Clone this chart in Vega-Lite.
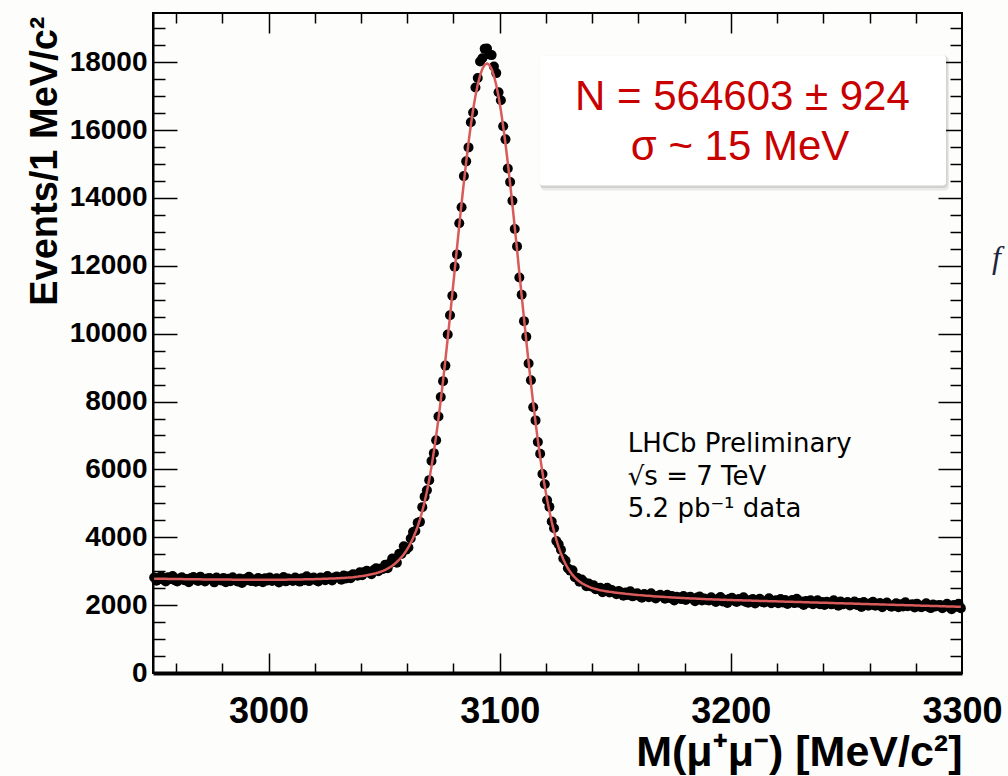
{
  "$schema": "https://vega.github.io/schema/vega-lite/v6.json",
  "width": 809,
  "height": 660,
  "autosize": {"type": "none"},
  "padding": {"left": 153, "top": 13, "right": 46, "bottom": 103},
  "background": "#fdfdfb",
  "config": {
    "view": {"stroke": "#000000", "strokeWidth": 2, "fill": "#fdfdfb"},
    "axis": {"grid": false, "labelFont": "Liberation Sans", "titleFont": "Liberation Sans", "labelColor": "#000000", "titleColor": "#000000", "tickColor": "#000000", "domainColor": "#000000", "tickWidth": 1.5, "labelFlush": false}
  },
  "data": {
    "values": [
      {"m":2950.5,"n":2814,"f":2779},{"m":2951.5,"n":2718,"f":2778},{"m":2952.5,"n":2787,"f":2777},{"m":2953.5,"n":2851,"f":2776},{"m":2954.5,"n":2750,"f":2775},{"m":2955.5,"n":2694,"f":2774},{"m":2956.5,"n":2823,"f":2773},{"m":2957.5,"n":2767,"f":2772},{"m":2958.5,"n":2861,"f":2771},{"m":2959.5,"n":2730,"f":2770},
      {"m":2960.5,"n":2699,"f":2769},{"m":2961.5,"n":2788,"f":2768},{"m":2962.5,"n":2822,"f":2767},{"m":2963.5,"n":2731,"f":2766},{"m":2964.5,"n":2770,"f":2765},{"m":2965.5,"n":2674,"f":2764},{"m":2966.5,"n":2803,"f":2763},{"m":2967.5,"n":2828,"f":2763},{"m":2968.5,"n":2747,"f":2762},{"m":2969.5,"n":2711,"f":2761},
      {"m":2970.5,"n":2840,"f":2760},{"m":2971.5,"n":2739,"f":2759},{"m":2972.5,"n":2694,"f":2759},{"m":2973.5,"n":2788,"f":2758},{"m":2974.5,"n":2802,"f":2757},{"m":2975.5,"n":2746,"f":2756},{"m":2976.5,"n":2671,"f":2756},{"m":2977.5,"n":2815,"f":2755},{"m":2978.5,"n":2770,"f":2755},{"m":2979.5,"n":2724,"f":2754},
      {"m":2980.5,"n":2803,"f":2753},{"m":2981.5,"n":2678,"f":2753},{"m":2982.5,"n":2777,"f":2752},{"m":2983.5,"n":2707,"f":2752},{"m":2984.5,"n":2821,"f":2751},{"m":2985.5,"n":2756,"f":2751},{"m":2986.5,"n":2695,"f":2750},{"m":2987.5,"n":2785,"f":2750},{"m":2988.5,"n":2654,"f":2749},{"m":2989.5,"n":2769,"f":2749},
      {"m":2990.5,"n":2734,"f":2749},{"m":2991.5,"n":2833,"f":2748},{"m":2992.5,"n":2708,"f":2748},{"m":2993.5,"n":2757,"f":2747},{"m":2994.5,"n":2687,"f":2747},{"m":2995.5,"n":2802,"f":2747},{"m":2996.5,"n":2772,"f":2747},{"m":2997.5,"n":2677,"f":2747},{"m":2998.5,"n":2792,"f":2747},{"m":2999.5,"n":2727,"f":2747},
      {"m":3000.5,"n":2812,"f":2747},{"m":3001.5,"n":2713,"f":2748},{"m":3002.5,"n":2743,"f":2748},{"m":3003.5,"n":2789,"f":2749},{"m":3004.5,"n":2669,"f":2749},{"m":3005.5,"n":2765,"f":2750},{"m":3006.5,"n":2826,"f":2751},{"m":3007.5,"n":2701,"f":2751},{"m":3008.5,"n":2782,"f":2752},{"m":3009.5,"n":2743,"f":2753},
      {"m":3010.5,"n":2709,"f":2754},{"m":3011.5,"n":2815,"f":2755},{"m":3012.5,"n":2777,"f":2757},{"m":3013.5,"n":2693,"f":2758},{"m":3014.5,"n":2794,"f":2759},{"m":3015.5,"n":2735,"f":2760},{"m":3016.5,"n":2852,"f":2762},{"m":3017.5,"n":2708,"f":2763},{"m":3018.5,"n":2770,"f":2765},{"m":3019.5,"n":2816,"f":2766},
      {"m":3020.5,"n":2738,"f":2768},{"m":3021.5,"n":2700,"f":2770},{"m":3022.5,"n":2817,"f":2772},{"m":3023.5,"n":2789,"f":2774},{"m":3024.5,"n":2736,"f":2776},{"m":3025.5,"n":2859,"f":2779},{"m":3026.5,"n":2767,"f":2782},{"m":3027.5,"n":2725,"f":2785},{"m":3028.5,"n":2813,"f":2788},{"m":3029.5,"n":2846,"f":2791},
      {"m":3030.5,"n":2805,"f":2795},{"m":3031.5,"n":2749,"f":2799},{"m":3032.5,"n":2873,"f":2803},{"m":3033.5,"n":2787,"f":2807},{"m":3034.5,"n":2851,"f":2811},{"m":3035.5,"n":2792,"f":2817},{"m":3036.5,"n":2912,"f":2822},{"m":3037.5,"n":2897,"f":2832},{"m":3038.5,"n":2865,"f":2840},{"m":3039.5,"n":2969,"f":2849},
      {"m":3040.5,"n":2883,"f":2858},{"m":3041.5,"n":2974,"f":2869},{"m":3042.5,"n":3011,"f":2881},{"m":3043.5,"n":2964,"f":2894},{"m":3044.5,"n":2913,"f":2908},{"m":3045.5,"n":3038,"f":2923},{"m":3046.5,"n":3086,"f":2941},{"m":3047.5,"n":2996,"f":2961},{"m":3048.5,"n":3078,"f":2983},{"m":3049.5,"n":3065,"f":3010},
      {"m":3050.5,"n":3193,"f":3041},{"m":3051.5,"n":3086,"f":3076},{"m":3052.5,"n":3231,"f":3116},{"m":3053.5,"n":3374,"f":3162},{"m":3054.5,"n":3277,"f":3215},{"m":3055.5,"n":3252,"f":3272},{"m":3056.5,"n":3514,"f":3339},{"m":3057.5,"n":3506,"f":3414},{"m":3058.5,"n":3736,"f":3501},{"m":3059.5,"n":3636,"f":3596},
      {"m":3060.5,"n":3701,"f":3706},{"m":3061.5,"n":3962,"f":3832},{"m":3062.5,"n":4157,"f":3975},{"m":3063.5,"n":4186,"f":4138},{"m":3064.5,"n":4430,"f":4322},{"m":3065.5,"n":4454,"f":4529},{"m":3066.5,"n":4888,"f":4768},{"m":3067.5,"n":5197,"f":5039},{"m":3068.5,"n":5387,"f":5349},{"m":3069.5,"n":5683,"f":5698},
      {"m":3070.5,"n":6249,"f":6089},{"m":3071.5,"n":6479,"f":6519},{"m":3072.5,"n":6858,"f":6988},{"m":3073.5,"n":7558,"f":7498},{"m":3074.5,"n":8133,"f":8043},{"m":3075.5,"n":8601,"f":8621},{"m":3076.5,"n":9059,"f":9229},{"m":3077.5,"n":9978,"f":9858},{"m":3078.5,"n":10543,"f":10513},{"m":3079.5,"n":11118,"f":11178},
      {"m":3080.5,"n":11975,"f":11850},{"m":3081.5,"n":12336,"f":12524},{"m":3082.5,"n":13252,"f":13190},{"m":3083.5,"n":13728,"f":13840},{"m":3084.5,"n":14643,"f":14468},{"m":3085.5,"n":15078,"f":15066},{"m":3086.5,"n":15490,"f":15628},{"m":3087.5,"n":16230,"f":16142},{"m":3088.5,"n":16517,"f":16605},{"m":3089.5,"n":17257,"f":17007},
      {"m":3090.5,"n":17535,"f":17345},{"m":3091.5,"n":18023,"f":17613},{"m":3092.5,"n":18117,"f":17807},{"m":3093.5,"n":18393,"f":17923},{"m":3094.5,"n":18401,"f":17961},{"m":3095.5,"n":18229,"f":17919},{"m":3096.5,"n":18209,"f":17799},{"m":3097.5,"n":17871,"f":17601},{"m":3098.5,"n":17679,"f":17329},{"m":3099.5,"n":17117,"f":16987},
      {"m":3100.5,"n":16881,"f":16581},{"m":3101.5,"n":16114,"f":16114},{"m":3102.5,"n":15726,"f":15596},{"m":3103.5,"n":14870,"f":15030},{"m":3104.5,"n":14468,"f":14428},{"m":3105.5,"n":13916,"f":13796},{"m":3106.5,"n":13082,"f":13142},{"m":3107.5,"n":12572,"f":12472},{"m":3108.5,"n":11654,"f":11794},{"m":3109.5,"n":11148,"f":11118},
      {"m":3110.5,"n":10369,"f":10449},{"m":3111.5,"n":9910,"f":9790},{"m":3112.5,"n":9122,"f":9152},{"m":3113.5,"n":8625,"f":8535},{"m":3114.5,"n":7833,"f":7943},{"m":3115.5,"n":7444,"f":7384},{"m":3116.5,"n":6805,"f":6855},{"m":3117.5,"n":6462,"f":6362},{"m":3118.5,"n":5863,"f":5903},{"m":3119.5,"n":5563,"f":5493},
      {"m":3120.5,"n":5092,"f":5112},{"m":3121.5,"n":4896,"f":4766},{"m":3122.5,"n":4464,"f":4454},{"m":3123.5,"n":4265,"f":4175},{"m":3124.5,"n":3889,"f":3929},{"m":3125.5,"n":3791,"f":3711},{"m":3126.5,"n":3630,"f":3520},{"m":3127.5,"n":3374,"f":3354},{"m":3128.5,"n":3310,"f":3210},{"m":3129.5,"n":3086,"f":3086},
      {"m":3130.5,"n":3017,"f":2982},{"m":3131.5,"n":3026,"f":2891},{"m":3132.5,"n":2825,"f":2815},{"m":3133.5,"n":2810,"f":2750},{"m":3134.5,"n":2687,"f":2697},{"m":3135.5,"n":2754,"f":2649},{"m":3136.5,"n":2684,"f":2609},{"m":3137.5,"n":2554,"f":2574},{"m":3138.5,"n":2640,"f":2545},{"m":3139.5,"n":2548,"f":2518},
      {"m":3140.5,"n":2589,"f":2494},{"m":3141.5,"n":2470,"f":2475},{"m":3142.5,"n":2482,"f":2457},{"m":3143.5,"n":2511,"f":2441},{"m":3144.5,"n":2378,"f":2428},{"m":3145.5,"n":2460,"f":2415},{"m":3146.5,"n":2509,"f":2404},{"m":3147.5,"n":2373,"f":2393},{"m":3148.5,"n":2444,"f":2384},{"m":3149.5,"n":2395,"f":2375},
      {"m":3150.5,"n":2322,"f":2367},{"m":3151.5,"n":2419,"f":2359},{"m":3152.5,"n":2372,"f":2352},{"m":3153.5,"n":2278,"f":2343},{"m":3154.5,"n":2369,"f":2334},{"m":3155.5,"n":2302,"f":2327},{"m":3156.5,"n":2410,"f":2320},{"m":3157.5,"n":2259,"f":2314},{"m":3158.5,"n":2312,"f":2307},{"m":3159.5,"n":2351,"f":2301},
      {"m":3160.5,"n":2265,"f":2295},{"m":3161.5,"n":2220,"f":2290},{"m":3162.5,"n":2329,"f":2284},{"m":3163.5,"n":2294,"f":2279},{"m":3164.5,"n":2233,"f":2273},{"m":3165.5,"n":2348,"f":2268},{"m":3166.5,"n":2248,"f":2263},{"m":3167.5,"n":2198,"f":2258},{"m":3168.5,"n":2279,"f":2254},{"m":3169.5,"n":2304,"f":2249},
      {"m":3170.5,"n":2255,"f":2245},{"m":3171.5,"n":2191,"f":2241},{"m":3172.5,"n":2306,"f":2236},{"m":3173.5,"n":2212,"f":2232},{"m":3174.5,"n":2268,"f":2228},{"m":3175.5,"n":2139,"f":2224},{"m":3176.5,"n":2250,"f":2220},{"m":3177.5,"n":2222,"f":2217},{"m":3178.5,"n":2178,"f":2213},{"m":3179.5,"n":2269,"f":2209},
      {"m":3180.5,"n":2151,"f":2206},{"m":3181.5,"n":2227,"f":2202},{"m":3182.5,"n":2249,"f":2199},{"m":3183.5,"n":2185,"f":2195},{"m":3184.5,"n":2117,"f":2192},{"m":3185.5,"n":2224,"f":2189},{"m":3186.5,"n":2251,"f":2186},{"m":3187.5,"n":2138,"f":2183},{"m":3188.5,"n":2195,"f":2180},{"m":3189.5,"n":2152,"f":2177},
      {"m":3190.5,"n":2139,"f":2174},{"m":3191.5,"n":2232,"f":2172},{"m":3192.5,"n":2159,"f":2169},{"m":3193.5,"n":2092,"f":2167},{"m":3194.5,"n":2189,"f":2164},{"m":3195.5,"n":2241,"f":2161},{"m":3196.5,"n":2109,"f":2159},{"m":3197.5,"n":2161,"f":2156},{"m":3198.5,"n":2064,"f":2154},{"m":3199.5,"n":2191,"f":2151},
      {"m":3200.5,"n":2219,"f":2149},{"m":3201.5,"n":2127,"f":2147},{"m":3202.5,"n":2090,"f":2145},{"m":3203.5,"n":2178,"f":2143},{"m":3204.5,"n":2136,"f":2141},{"m":3205.5,"n":2229,"f":2139},{"m":3206.5,"n":2097,"f":2137},{"m":3207.5,"n":2070,"f":2135},{"m":3208.5,"n":2148,"f":2133},{"m":3209.5,"n":2181,"f":2131},
      {"m":3210.5,"n":2049,"f":2129},{"m":3211.5,"n":2147,"f":2127},{"m":3212.5,"n":2190,"f":2125},{"m":3213.5,"n":2093,"f":2123},{"m":3214.5,"n":2076,"f":2121},{"m":3215.5,"n":2129,"f":2119},{"m":3216.5,"n":2202,"f":2117},{"m":3217.5,"n":2055,"f":2115},{"m":3218.5,"n":2098,"f":2113},{"m":3219.5,"n":2141,"f":2111},
      {"m":3220.5,"n":2059,"f":2109},{"m":3221.5,"n":2182,"f":2107},{"m":3222.5,"n":2080,"f":2105},{"m":3223.5,"n":2148,"f":2103},{"m":3224.5,"n":2031,"f":2101},{"m":3225.5,"n":2094,"f":2099},{"m":3226.5,"n":2152,"f":2097},{"m":3227.5,"n":2060,"f":2095},{"m":3228.5,"n":2188,"f":2093},{"m":3229.5,"n":2071,"f":2091},
      {"m":3230.5,"n":2104,"f":2089},{"m":3231.5,"n":2002,"f":2087},{"m":3232.5,"n":2125,"f":2085},{"m":3233.5,"n":2073,"f":2083},{"m":3234.5,"n":2141,"f":2081},{"m":3235.5,"n":2024,"f":2079},{"m":3236.5,"n":2052,"f":2077},{"m":3237.5,"n":2145,"f":2075},{"m":3238.5,"n":2028,"f":2073},{"m":3239.5,"n":2091,"f":2071},
      {"m":3240.5,"n":2004,"f":2069},{"m":3241.5,"n":2102,"f":2067},{"m":3242.5,"n":2070,"f":2065},{"m":3243.5,"n":2023,"f":2063},{"m":3244.5,"n":2141,"f":2061},{"m":3245.5,"n":2044,"f":2059},{"m":3246.5,"n":1982,"f":2057},{"m":3247.5,"n":2105,"f":2055},{"m":3248.5,"n":2023,"f":2053},{"m":3249.5,"n":2061,"f":2051},
      {"m":3250.5,"n":2094,"f":2049},{"m":3251.5,"n":1987,"f":2047},{"m":3252.5,"n":2025,"f":2045},{"m":3253.5,"n":2108,"f":2043},{"m":3254.5,"n":2006,"f":2041},{"m":3255.5,"n":2064,"f":2039},{"m":3256.5,"n":1947,"f":2037},{"m":3257.5,"n":2090,"f":2035},{"m":3258.5,"n":2028,"f":2033},{"m":3259.5,"n":1981,"f":2031},
      {"m":3260.5,"n":2059,"f":2029},{"m":3261.5,"n":2097,"f":2027},{"m":3262.5,"n":1980,"f":2025},{"m":3263.5,"n":2008,"f":2023},{"m":3264.5,"n":2061,"f":2021},{"m":3265.5,"n":1939,"f":2019},{"m":3266.5,"n":2032,"f":2017},{"m":3267.5,"n":2075,"f":2015},{"m":3268.5,"n":1988,"f":2013},{"m":3269.5,"n":1956,"f":2011},
      {"m":3270.5,"n":1999,"f":2009},{"m":3271.5,"n":2057,"f":2007},{"m":3272.5,"n":1935,"f":2005},{"m":3273.5,"n":2023,"f":2003},{"m":3274.5,"n":1961,"f":2001},{"m":3275.5,"n":2084,"f":1999},{"m":3276.5,"n":1967,"f":1997},{"m":3277.5,"n":1990,"f":1995},{"m":3278.5,"n":2028,"f":1993},{"m":3279.5,"n":1931,"f":1991},
      {"m":3280.5,"n":2044,"f":1989},{"m":3281.5,"n":1962,"f":1987},{"m":3282.5,"n":1935,"f":1985},{"m":3283.5,"n":1993,"f":1983},{"m":3284.5,"n":2056,"f":1981},{"m":3285.5,"n":1944,"f":1979},{"m":3286.5,"n":1912,"f":1977},{"m":3287.5,"n":2020,"f":1975},{"m":3288.5,"n":1958,"f":1973},{"m":3289.5,"n":1996,"f":1971},
      {"m":3290.5,"n":2004,"f":1969},{"m":3291.5,"n":1907,"f":1967},{"m":3292.5,"n":1975,"f":1965},{"m":3293.5,"n":2038,"f":1963},{"m":3294.5,"n":1936,"f":1961},{"m":3295.5,"n":1879,"f":1959},{"m":3296.5,"n":2007,"f":1957},{"m":3297.5,"n":1950,"f":1955},{"m":3298.5,"n":2043,"f":1953},{"m":3299.5,"n":1911,"f":1951}
    ]
  },
  "resolve": {"scale": {"x": "shared", "y": "shared"}, "axis": {"x": "independent", "y": "independent"}},
  "layer": [
    {
      "mark": {"type": "point", "opacity": 0},
      "encoding": {
        "x": {"field": "m", "type": "quantitative", "scale": {"domain": [2950, 3300], "nice": false, "zero": false},
              "axis": {"orient": "bottom", "offset": -10, "tickSize": 10, "domain": false, "labels": false, "title": null,
                       "values": [2960, 2980, 3020, 3040, 3060, 3080, 3120, 3140, 3160, 3180, 3220, 3240, 3260, 3280]}},
        "y": {"field": "n", "type": "quantitative", "scale": {"domain": [0, 19450], "nice": false},
              "axis": {"orient": "left", "offset": -12, "tickSize": 12, "domain": false, "labels": false, "title": null,
                       "values": [500, 1000, 1500, 2500, 3000, 3500, 4500, 5000, 5500, 6500, 7000, 7500, 8500, 9000, 9500, 10500, 11000, 11500, 12500, 13000, 13500, 14500, 15000, 15500, 16500, 17000, 17500, 18500, 19000]}}
      }
    },
    {
      "mark": {"type": "point", "opacity": 0},
      "encoding": {
        "x": {"field": "m", "type": "quantitative",
              "axis": {"orient": "bottom", "offset": -20, "tickSize": 20, "domain": false, "labels": false, "title": null,
                       "values": [3000, 3100, 3200]}},
        "y": {"field": "n", "type": "quantitative",
              "axis": {"orient": "left", "offset": -24, "tickSize": 24, "domain": false, "labels": false, "title": null,
                       "values": [2000, 4000, 6000, 8000, 10000, 12000, 14000, 16000, 18000]}}
      }
    },
    {
      "mark": {"type": "point", "opacity": 0},
      "encoding": {
        "x": {"field": "m", "type": "quantitative",
              "axis": {"orient": "top", "offset": -10, "tickSize": 10, "domain": false, "labels": false, "title": null,
                       "values": [2960, 2980, 3020, 3040, 3060, 3080, 3120, 3140, 3160, 3180, 3220, 3240, 3260, 3280]}},
        "y": {"field": "n", "type": "quantitative",
              "axis": {"orient": "right", "offset": -12, "tickSize": 12, "domain": false, "labels": false, "title": null,
                       "values": [500, 1000, 1500, 2500, 3000, 3500, 4500, 5000, 5500, 6500, 7000, 7500, 8500, 9000, 9500, 10500, 11000, 11500, 12500, 13000, 13500, 14500, 15000, 15500, 16500, 17000, 17500, 18500, 19000]}}
      }
    },
    {
      "mark": {"type": "point", "opacity": 0},
      "encoding": {
        "x": {"field": "m", "type": "quantitative",
              "axis": {"orient": "top", "offset": -20, "tickSize": 20, "domain": false, "labels": false, "title": null,
                       "values": [3000, 3100, 3200]}},
        "y": {"field": "n", "type": "quantitative",
              "axis": {"orient": "right", "offset": -24, "tickSize": 24, "domain": false, "labels": false, "title": null,
                       "values": [2000, 4000, 6000, 8000, 10000, 12000, 14000, 16000, 18000]}}
      }
    },
    {
      "mark": {"type": "point", "filled": true, "color": "#000000", "size": 100, "opacity": 1},
      "encoding": {
        "x": {"field": "m", "type": "quantitative",
              "axis": {"orient": "bottom", "ticks": false, "domainWidth": 4, "values": [3000, 3100, 3200, 3300], "format": "d",
                       "labelFontSize": 36, "labelFontWeight": "bold", "labelBaseline": "alphabetic", "labelPadding": 49,
                       "title": "M(μ⁺μ⁻) [MeV/c²]", "titleFontSize": 43, "titleFontWeight": "bold",
                       "titleAnchor": null, "titleAlign": "right", "titleBaseline": "alphabetic", "titleX": 809, "titleY": 92}},
        "y": {"field": "n", "type": "quantitative",
              "axis": {"orient": "left", "ticks": false, "domainWidth": 2, "values": [0, 2000, 4000, 6000, 8000, 10000, 12000, 14000, 16000, 18000], "format": "d",
                       "labelFontSize": 28, "labelFontWeight": "bold", "labelPadding": 6, "labelBaseline": "middle",
                       "title": "Events/1 MeV/c²", "titleFontSize": 38, "titleFontWeight": "bold", "titleAngle": 270,
                       "titleAnchor": null, "titleAlign": "right", "titleBaseline": "alphabetic", "titleX": -97, "titleY": 3}}
      }
    },
    {
      "mark": {"type": "line", "color": "#d95a5a", "strokeWidth": 2.5},
      "encoding": {
        "x": {"field": "m", "type": "quantitative", "axis": null},
        "y": {"field": "f", "type": "quantitative", "axis": null}
      }
    },
    {
      "data": {"values": [{"x1": 3117.3, "x2": 3293.1, "y1": 14370, "y2": 18205}]},
      "layer": [
        {
          "mark": {"type": "rect", "fill": "#000000", "opacity": 0.08, "cornerRadius": 4, "xOffset": 1, "x2Offset": 3, "yOffset": 5, "y2Offset": 1},
          "encoding": {
            "x": {"field": "x1", "type": "quantitative", "axis": null}, "x2": {"field": "x2"},
            "y": {"field": "y1", "type": "quantitative", "axis": null}, "y2": {"field": "y2"}
          }
        },
        {
          "mark": {"type": "rect", "fill": "#000000", "opacity": 0.1, "cornerRadius": 4, "xOffset": 0, "x2Offset": 1.5, "yOffset": 2.5, "y2Offset": 0},
          "encoding": {
            "x": {"field": "x1", "type": "quantitative", "axis": null}, "x2": {"field": "x2"},
            "y": {"field": "y1", "type": "quantitative", "axis": null}, "y2": {"field": "y2"}
          }
        },
        {
          "mark": {"type": "rect", "fill": "#ffffff", "cornerRadius": 3},
          "encoding": {
            "x": {"field": "x1", "type": "quantitative", "axis": null}, "x2": {"field": "x2"},
            "y": {"field": "y1", "type": "quantitative", "axis": null}, "y2": {"field": "y2"}
          }
        }
      ]
    },
    {
      "data": {"values": [{"x": 3205, "y": 16600, "t": "N = 564603 ± 924"}, {"x": 3204, "y": 15110, "t": "σ ~ 15 MeV"}]},
      "mark": {"type": "text", "font": "Liberation Sans", "fontSize": 42, "color": "#c80000", "align": "center", "baseline": "alphabetic"},
      "encoding": {
        "x": {"field": "x", "type": "quantitative", "axis": null},
        "y": {"field": "y", "type": "quantitative", "axis": null},
        "text": {"field": "t"}
      }
    },
    {
      "data": {"values": [{"x": 3155.4, "y": 6513, "t": "LHCb Preliminary"}, {"x": 3155.4, "y": 5532, "t": "√s = 7 TeV"}, {"x": 3155.4, "y": 4598, "t": "5.2 pb⁻¹ data"}]},
      "mark": {"type": "text", "font": "DejaVu Sans", "fontSize": 26, "color": "#000000", "align": "left", "baseline": "alphabetic"},
      "encoding": {
        "x": {"field": "x", "type": "quantitative", "axis": null},
        "y": {"field": "y", "type": "quantitative", "axis": null},
        "text": {"field": "t"}
      }
    },
    {
      "data": {"values": [{"x": 3313, "y": 11930, "t": "f"}]},
      "mark": {"type": "text", "font": "Liberation Serif", "fontStyle": "italic", "fontSize": 32, "color": "#1c2540", "align": "left", "baseline": "alphabetic", "clip": false},
      "encoding": {
        "x": {"field": "x", "type": "quantitative", "axis": null},
        "y": {"field": "y", "type": "quantitative", "axis": null},
        "text": {"field": "t"}
      }
    }
  ]
}
